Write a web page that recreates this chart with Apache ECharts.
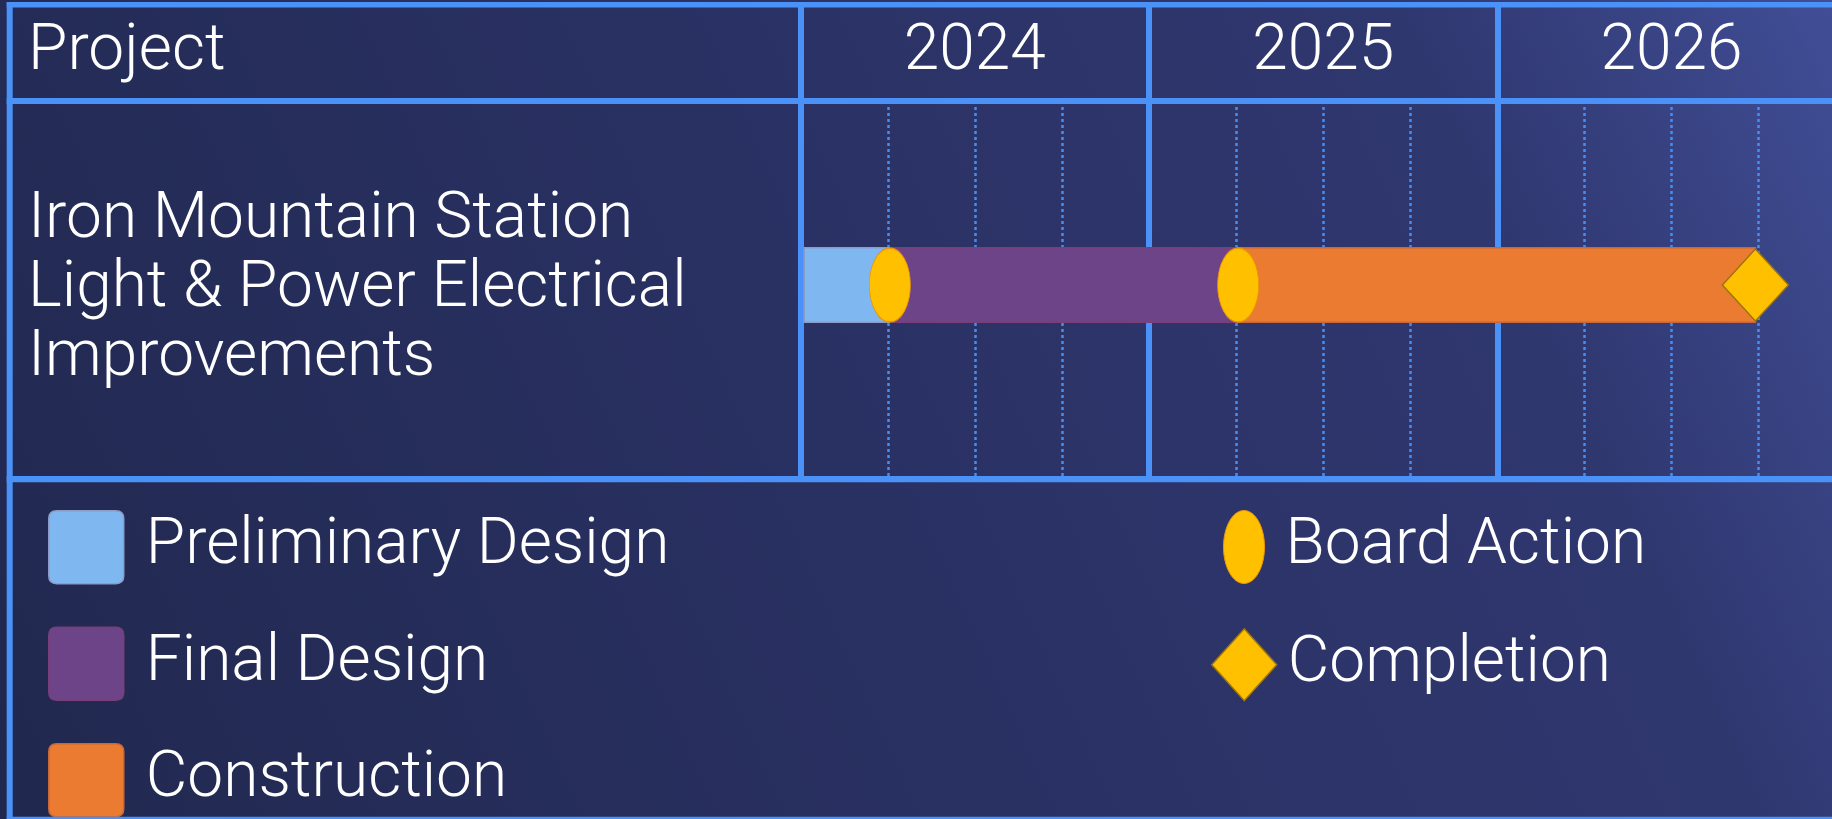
<!DOCTYPE html>
<html>
<head>
<meta charset="utf-8">
<script src="https://cdn.jsdelivr.net/npm/echarts@6/dist/echarts.min.js"></script>
<style>
html,body{margin:0;padding:0;width:1832px;height:819px;overflow:hidden;background:#2B3366;}
#main{width:1832px;height:819px;}
</style>
</head>
<body>
<div id="main"></div>
<script>
// ---- data ----
const headerLabel = ['Project'];
const projects = ['Iron Mountain Station\nLight & Power Electrical\nImprovements'];
const years = [2024, 2025, 2026];
const phaseNames = ['Preliminary Design', 'Final Design', 'Construction'];
const phaseStart = [2024.01, 2024.256, 2025.256];
const phaseEnd = [2024.256, 2025.256, 2026.741];
const phaseColors = ['#7FB7F1', '#6E4489', '#EA7B31'];
const phaseBorders = ['#8C9CC4', '#7A3F78', '#C8683A'];
const boardActions = [2024.256, 2025.256];
const completion = [2026.741];

const FONT = 'Roboto';
const FS = 64;
const LINE = '#4A92F7';
const ELLIPSE = 'path://M50,0 C77.6,0 100,22.4 100,50 C100,77.6 77.6,100 50,100 C22.4,100 0,77.6 0,50 C0,22.4 22.4,0 50,0 Z';
const ROUNDSQ = 'path://M8,0 H67 Q75,0 75,8 V66 Q75,74 67,74 H8 Q0,74 0,66 V8 Q0,0 8,0 Z';

const chart = echarts.init(document.getElementById('main'), null, {renderer: 'canvas'});

const W = 1832;
const gridLeft = 800.7, yearW = 348.3;
const xMin = 2024;
const xMax = xMin + (W - gridLeft) / yearW; // visible part of the 2026 column

const phaseSeries = phaseNames.map((n, i) => ({
  type: 'custom',
  name: n,
  xAxisIndex: 1,
  yAxisIndex: 1,
  z: 3,
  itemStyle: {color: phaseColors[i], borderColor: phaseBorders[i], borderWidth: 1.5},
  encode: {x: [0, 1], y: 2},
  data: [[phaseStart[i], phaseEnd[i], 0]],
  renderItem: function (params, api) {
    const s = api.coord([api.value(0), api.value(2)]);
    const e = api.coord([api.value(1), api.value(2)]);
    const h = api.size([0, 1])[1] * 0.197;
    return {
      type: 'rect',
      shape: {x: s[0], y: s[1] - h / 2 - 5, width: e[0] - s[0], height: h},
      style: api.style()
    };
  }
}));

const txt = {color: '#FFFFFF', fontSize: FS, fontWeight: 300, fontFamily: FONT};

const option = {
  backgroundColor: {
    type: 'linear', x: 0, y: 1, x2: 1, y2: 0,
    colorStops: [
      {offset: 0, color: '#21284F'},
      {offset: 0.5, color: '#2A3265'},
      {offset: 0.8, color: '#2F376F'},
      {offset: 1, color: '#414E96'}
    ]
  },
  textStyle: {fontFamily: FONT},
  animation: false,
  grid: [
    {left: gridLeft, top: 4.7, right: 0, height: 96.3},
    {left: gridLeft, top: 101, right: 0, height: 378}
  ],
  xAxis: [
    {gridIndex: 0, type: 'value', min: xMin, max: xMax, interval: 1,
      axisLine: {show: false}, axisTick: {show: false},
      axisLabel: {show: false},
      splitLine: {show: true, showMaxLine: false, lineStyle: {color: LINE, width: 6, type: 'solid'}}},
    {gridIndex: 1, type: 'value', min: xMin, max: xMax, interval: 0.25,
      axisLine: {show: false}, axisTick: {show: false}, axisLabel: {show: false},
      splitLine: {show: true, showMaxLine: false, lineStyle: {color: '#418EF5', width: 2.5, type: [3, 3]}}},
    {gridIndex: 1, type: 'value', min: xMin, max: xMax, interval: 1,
      axisLine: {show: false}, axisTick: {show: false}, axisLabel: {show: false},
      splitLine: {show: true, showMaxLine: false, lineStyle: {color: LINE, width: 6, type: 'solid'}}}
  ],
  yAxis: [
    {gridIndex: 0, type: 'category', data: headerLabel,
      axisLine: {show: false}, axisTick: {show: false}, splitLine: {show: false},
      axisLabel: Object.assign({}, txt, {align: 'left', margin: gridLeft - 28})},
    {gridIndex: 1, type: 'category', data: projects,
      axisLine: {show: false}, axisTick: {show: false}, splitLine: {show: false},
      axisLabel: Object.assign({}, txt, {align: 'left', lineHeight: 69, margin: gridLeft - 28, padding: [0, 0, 10, 0]})}
  ],
  legend: [
    {
      orient: 'vertical', left: 48, top: 510, padding: 0, itemWidth: 75, itemHeight: 73, itemGap: 42,
      selectedMode: false, symbolKeepAspect: false,
      textStyle: Object.assign({}, txt, {lineHeight: 73, padding: [0, 0, 0, 17]}),
      data: phaseNames.map((n, i) => ({name: n, icon: ROUNDSQ,
        itemStyle: {color: phaseColors[i], borderColor: phaseBorders[i], borderWidth: 1.5}}))
    },
    {
      orient: 'vertical', left: 1223, top: 510, padding: 0, itemWidth: 41, itemHeight: 73,
      selectedMode: false, symbolKeepAspect: false,
      textStyle: Object.assign({}, txt, {lineHeight: 73, padding: [0, 0, 0, 16]}),
      data: [{name: 'Board Action', icon: ELLIPSE, itemStyle: {color: '#FFC000', borderColor: '#E8950A', borderWidth: 1}}]
    },
    {
      orient: 'vertical', left: 1211, top: 628, padding: 0, itemWidth: 65, itemHeight: 72,
      selectedMode: false, symbolKeepAspect: false,
      textStyle: Object.assign({}, txt, {lineHeight: 72, padding: [0, 0, 0, 6]}),
      data: [{name: 'Completion', icon: 'diamond', itemStyle: {color: '#FFC000', borderColor: '#9A7412', borderWidth: 1.5}}]
    }
  ],
  graphic: [
    {type: 'rect', z: 100, shape: {x: 6.7, y: 2, width: W, height: 5.5}, style: {fill: LINE}},
    {type: 'rect', z: 100, shape: {x: 6.7, y: 98, width: W, height: 6}, style: {fill: LINE}},
    {type: 'rect', z: 100, shape: {x: 6.7, y: 476, width: W, height: 6.3}, style: {fill: LINE}},
    {type: 'rect', z: 100, shape: {x: 6.7, y: 816.7, width: W, height: 4}, style: {fill: LINE}},
    {type: 'rect', z: 100, shape: {x: 6.7, y: 2, width: 6, height: 820}, style: {fill: LINE}}
  ],
  series: [
    {
      type: 'scatter', name: 'Years', xAxisIndex: 0, yAxisIndex: 0, silent: true,
      symbolSize: 1, itemStyle: {color: '#2B3366', opacity: 1},
      label: Object.assign({show: true, position: 'inside', formatter: p => String(p.value[2]), opacity: 1},
        txt, {textBorderWidth: 0}),
      emphasis: {disabled: true},
      data: years.map(y => [y + 0.5, 0, y])
    },
    ...phaseSeries,
    {
      type: 'scatter', name: 'Board Action', xAxisIndex: 1, yAxisIndex: 1, z: 5,
      symbol: ELLIPSE, symbolSize: [41, 74], symbolOffset: [0, -5],
      itemStyle: {color: '#FFC000', borderColor: '#E8950A', borderWidth: 1, opacity: 1},
      data: boardActions.map(x => [x, 0])
    },
    {
      type: 'scatter', name: 'Completion', xAxisIndex: 1, yAxisIndex: 1, z: 5,
      symbol: 'diamond', symbolSize: [66, 72], symbolOffset: [0, -5],
      itemStyle: {color: '#FFC000', borderColor: '#9A7412', borderWidth: 1.5, opacity: 1},
      data: completion.map(x => [x, 0])
    }
  ]
};
chart.setOption(option);
</script>
</body>
</html>
